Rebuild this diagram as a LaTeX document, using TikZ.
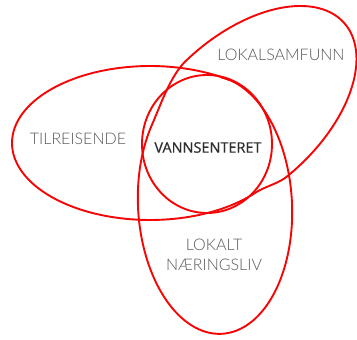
\documentclass[tikz,border=0pt]{standalone}
\usepackage{fontspec}
\newfontfamily\lightfont{Lato Light}
\newfontfamily\midfont{Open Sans}[FakeBold=0.6]
\definecolor{vred}{RGB}{245,5,5}
\definecolor{lbl}{RGB}{88,88,88}
\definecolor{clbl}{RGB}{45,45,45}
\begin{document}
\begin{tikzpicture}[x=1pt,y=-1pt,
  ring/.style={draw=vred,line width=1.9pt,line join=round,line cap=round},
  setlabel/.style={font=\lightfont\fontsize{16}{20}\selectfont,text=lbl,align=center,inner sep=0pt},
  corelabel/.style={font=\midfont\fontsize{14.5}{18}\selectfont,text=clbl,inner sep=0pt}]
\useasboundingbox (0,0) rectangle (357,340);
% VANNSENTERET
\draw[ring] (207,144) ellipse [x radius=65,y radius=69];
% TILREISENDE (visible arc)
\draw[ring] plot[domain=40:305,samples=120,variable=\t]
  ({150+138*cos(\t)},{143+77*sin(\t)});
% LOKALT NAERINGSLIV + LOKALSAMFUNN outline
\draw[ring]
  plot[domain=-80:220,samples=150,variable=\t]
    ({215+76.9*cos(\t)+6.75*sin(\t)},{205-4.03*cos(\t)+128.8*sin(\t)})
  .. controls (160.6,105.1) and (170.2,75.9) .. (186,60.7)
  -- plot[domain=266:455,samples=150,variable=\t]
    ({244+100.2*cos(\t)+51.1*sin(\t)},{112-89*cos(\t)+57.6*sin(\t)})
  .. controls (278.4,183.4) and (264,187) .. (255.7,192.5);
\node[setlabel] (til) at (78,139) {TILREISENDE};
\node[corelabel] (van) at (208,147.5) {VANNSENTERET};
\node[setlabel] (lok) at (281,55) {LOKALSAMFUNN};
\node[setlabel] (nae) at (214,255) {LOKALT\\NÆRINGSLIV};
\end{tikzpicture}
\end{document}
